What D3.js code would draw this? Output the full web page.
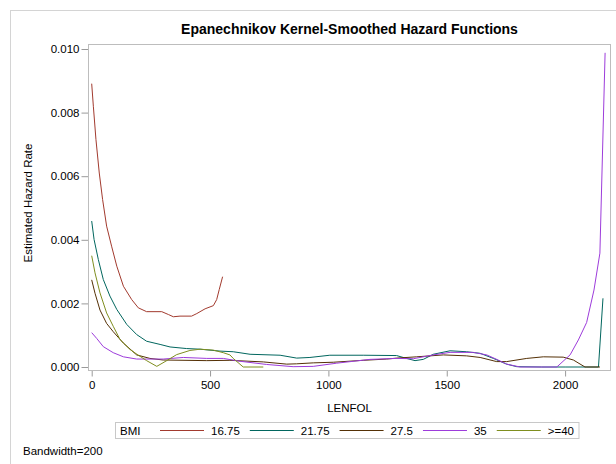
<!DOCTYPE html>
<html>
<head>
<meta charset="utf-8">
<script src="https://cdn.jsdelivr.net/npm/d3@7"></script>
<style>
  html, body { margin: 0; padding: 0; background: #fff; }
  svg text { font-family: "Liberation Sans", Arial, sans-serif; fill: #000; }
</style>
</head>
<body>
<svg id="chart" width="616" height="464"></svg>
<script>
// Kernel-smoothed hazard estimates by BMI group (Epanechnikov kernel, bandwidth 200)
const groups = ["16.75", "21.75", "27.5", "35", ">=40"];
const groupColors = ["#A23A2E", "#01665E", "#543005", "#9D3CDB", "#7F8E1F"];

const time16 = [0, 7, 18, 32, 46, 63, 84, 106, 134, 169, 197, 232, 296, 324, 345, 373, 422, 444, 479, 514, 528, 539, 553];
const hazard16 = [0.00891, 0.0082, 0.00715, 0.0061, 0.00527, 0.00443, 0.0038, 0.00317, 0.00254, 0.00212, 0.00186, 0.00174, 0.00174, 0.00165, 0.00158, 0.0016, 0.0016, 0.00168, 0.00183, 0.00193, 0.00212, 0.00244, 0.00284];

const time21 = [0, 10, 28, 49, 77, 106, 148, 190, 232, 289, 331, 401, 458, 542, 598, 669, 796, 866, 922, 1006, 1147, 1288, 1330, 1366, 1401, 1443, 1514, 1584, 1641, 1697, 1753, 1796, 1900, 2000, 2092, 2141, 2160];
const hazard21 = [0.00459, 0.00401, 0.00338, 0.00275, 0.00223, 0.00181, 0.00134, 0.00102, 0.00081, 0.00071, 0.00063, 0.00058, 0.00056, 0.0005, 0.00048, 0.0004, 0.00037, 0.00028, 0.0003, 0.00037, 0.00037, 0.00036, 0.00027, 0.0002, 0.00024, 0.0004, 0.00051, 0.00048, 0.00043, 0.00027, 0.00009, 0.00001, 0, 0, 0, 0, 0.00216];

const time27 = [0, 14, 35, 63, 91, 134, 190, 246, 302, 486, 584, 725, 824, 866, 936, 1021, 1147, 1246, 1289, 1373, 1486, 1584, 1641, 1711, 1753, 1838, 1908, 1992, 2035, 2084, 2147];
const hazard27 = [0.00274, 0.00232, 0.00179, 0.00137, 0.00111, 0.00075, 0.00038, 0.00027, 0.00022, 0.0002, 0.00021, 0.00016, 0.00009, 0.0001, 0.00013, 0.00015, 0.00021, 0.00025, 0.00028, 0.00032, 0.00038, 0.00035, 0.0003, 0.00017, 0.00017, 0.00027, 0.00032, 0.00031, 0.00022, 0, 0];

const time35 = [0, 21, 49, 91, 134, 190, 302, 387, 486, 556, 627, 739, 851, 936, 1035, 1176, 1289, 1359, 1443, 1514, 1612, 1669, 1711, 1753, 1810, 1965, 2021, 2056, 2091, 2122, 2147, 2169];
const hazard35 = [0.00108, 0.0009, 0.00064, 0.00045, 0.00032, 0.00025, 0.00025, 0.0003, 0.00027, 0.00027, 0.00018, 0.00008, 0.00001, 0.00002, 0.00012, 0.00024, 0.00027, 0.00026, 0.00038, 0.00046, 0.00046, 0.00038, 0.00024, 0.00009, 0, 0, 0.00038, 0.00085, 0.0014, 0.00242, 0.00358, 0.00988];

const time40 = [0, 14, 35, 63, 91, 120, 162, 197, 232, 275, 317, 359, 415, 458, 514, 556, 584, 598, 640, 725];
const hazard40 = [0.0035, 0.00296, 0.00233, 0.0017, 0.00128, 0.00086, 0.00055, 0.00037, 0.0002, 0.00002, 0.0002, 0.00039, 0.00052, 0.00056, 0.00053, 0.00045, 0.00038, 0.00027, 0, 0];

const xTicks = [0, 500, 1000, 1500, 2000];
const yTicks = [0, 0.002, 0.004, 0.006, 0.008, 0.010];

const seriesTimes = [time16, time21, time27, time35, time40];
const seriesHazards = [hazard16, hazard21, hazard27, hazard35, hazard40];

const svg = d3.select("#chart");
const frame = { left: 88.5, top: 44.5, right: 610.5, bottom: 370.5 };

const x = d3.scaleLinear().domain([0, 2000]).range([91.7, 565.1]);
const y = d3.scaleLinear().domain([0, 0.010]).range([367, 49]);

// outer graph border
svg.append("rect")
  .attr("x", 10.5).attr("y", 10.5).attr("width", 620).attr("height", 470)
  .attr("fill", "none").attr("stroke", "#D4D4D4");

// title
svg.append("text")
  .attr("x", (frame.left + frame.right) / 2).attr("y", 34)
  .attr("text-anchor", "middle")
  .style("font-size", "14px").style("font-weight", "bold")
  .text("Epanechnikov Kernel-Smoothed Hazard Functions");

// axes
const xAxis = d3.axisBottom(x).tickValues(xTicks).tickSize(6).tickPadding(4).tickFormat(d3.format("d"));
const gx = svg.append("g").attr("transform", `translate(0,${frame.bottom})`).call(xAxis);
gx.select(".domain").remove();

const yAxis = d3.axisLeft(y).tickValues(yTicks).tickSize(7).tickPadding(2).tickFormat(d3.format(".3f"));
const gy = svg.append("g").attr("transform", `translate(${frame.left},0)`).call(yAxis);
gy.select(".domain").remove();

[gx, gy].forEach(g => {
  g.selectAll(".tick line").attr("stroke", "#9A9A9A");
  g.selectAll(".tick text").style("font-size", "11.5px").attr("fill", "#000")
    .style("font-family", "'Liberation Sans', Arial, sans-serif");
});

// plot frame
svg.append("rect")
  .attr("x", frame.left).attr("y", frame.top)
  .attr("width", frame.right - frame.left).attr("height", frame.bottom - frame.top)
  .attr("fill", "none").attr("stroke", "#BDBDBD");

// axis labels
svg.append("text")
  .attr("x", (frame.left + frame.right) / 2).attr("y", 412)
  .attr("text-anchor", "middle").style("font-size", "11.5px")
  .text("LENFOL");

svg.append("text")
  .attr("transform", "translate(32,203) rotate(-90)")
  .attr("text-anchor", "middle").style("font-size", "11.5px")
  .text("Estimated Hazard Rate");

// hazard curves
const line = d3.line().x(d => x(d[0])).y(d => y(d[1]));
groups.forEach((g, i) => {
  const pts = seriesTimes[i].map((t, j) => [t, seriesHazards[i][j]]);
  svg.append("path")
    .datum(pts)
    .attr("d", line)
    .attr("fill", "none")
    .attr("stroke", groupColors[i])
    .attr("stroke-width", 1)
    .attr("stroke-linejoin", "round");
});

// legend
const legend = svg.append("g");
const legBox = legend.append("rect")
  .attr("x", 115.5).attr("y", 422.5).attr("height", 16)
  .attr("fill", "#fff").attr("stroke", "#C8C8C8");
legend.append("text").attr("x", 120).attr("y", 434.5)
  .style("font-size", "11.5px").text("BMI");
let lx = 160;
groups.forEach((g, i) => {
  legend.append("line")
    .attr("x1", lx).attr("x2", lx + 44).attr("y1", 430.5).attr("y2", 430.5)
    .attr("stroke", groupColors[i]).attr("stroke-width", 1);
  const t = legend.append("text").attr("x", lx + 51).attr("y", 434.5)
    .style("font-size", "11.5px").text(g);
  lx += 51 + t.node().getComputedTextLength() + 10;
});
legBox.attr("width", lx - 10 + 5 - 115.5);

// footnote
svg.append("text").attr("x", 23).attr("y", 455)
  .style("font-size", "11.5px").text("Bandwidth=200");
</script>
</body>
</html>
